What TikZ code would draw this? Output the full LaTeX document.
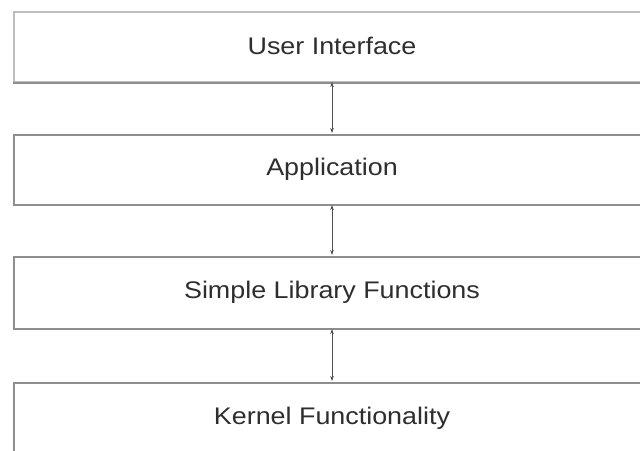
\documentclass[tikz,border=0pt]{standalone}
\usepackage{fontspec}
\setmainfont{Liberation Sans}
\usetikzlibrary{arrows.meta}
\definecolor{boxline}{HTML}{8E8E8E}
\definecolor{boxtop}{HTML}{BDBDBD}
\definecolor{txt}{HTML}{2E2E2E}
\definecolor{arr}{HTML}{505050}
\newcommand{\lbl}[1]{\scalebox{1.12}[1]{#1}}
\begin{document}
\begin{tikzpicture}[x=1pt,y=-1pt,
  layer/.style={draw=boxline, line width=1.8pt, fill=white, rectangle, anchor=north west,
    minimum width=660pt, inner sep=0pt},
  lbltext/.style={text=txt, font=\fontsize{24}{28}\selectfont},
  link/.style={draw=arr, line width=0.8pt, {Stealth[length=5pt,width=3.5pt]}-{Stealth[length=5pt,width=3.5pt]}}]
\useasboundingbox (0,0) rectangle (640,450);
\fill[white] (0,0) rectangle (640,450);
\clip (0,0) rectangle (640,450);
\node[layer, minimum height=70pt, draw=boxtop] (ui) at (13,11) {};
\draw[boxline, line width=1.8pt] (ui.south west) -- (ui.south east);
\node[layer, minimum height=70pt] (app) at (13,134) {};
\node[layer, minimum height=72pt] (lib) at (13,256) {};
\node[layer, minimum height=80pt] (ker) at (13,382) {};
\node[lbltext] (tui) at (332,46) {\lbl{User Interface}};
\node[lbltext] (tapp) at (332,169) {\lbl{Application}};
\node[lbltext] (tlib) at (332,292) {\lbl{Simple Library Functions}};
\node[lbltext] (tker) at (332,418) {\lbl{Kernel Functionality}};
\coordinate (a1) at (332,81);
\coordinate (a2) at (332,134);
\coordinate (b1) at (332,204);
\coordinate (b2) at (332,256);
\coordinate (c1) at (332,328);
\coordinate (c2) at (332,382);
\draw[link] ([yshift=-1pt]a1) -- ([yshift=1pt]a2);
\draw[link] ([yshift=-1pt]b1) -- ([yshift=1pt]b2);
\draw[link] ([yshift=-1pt]c1) -- ([yshift=1pt]c2);
\end{tikzpicture}
\end{document}
